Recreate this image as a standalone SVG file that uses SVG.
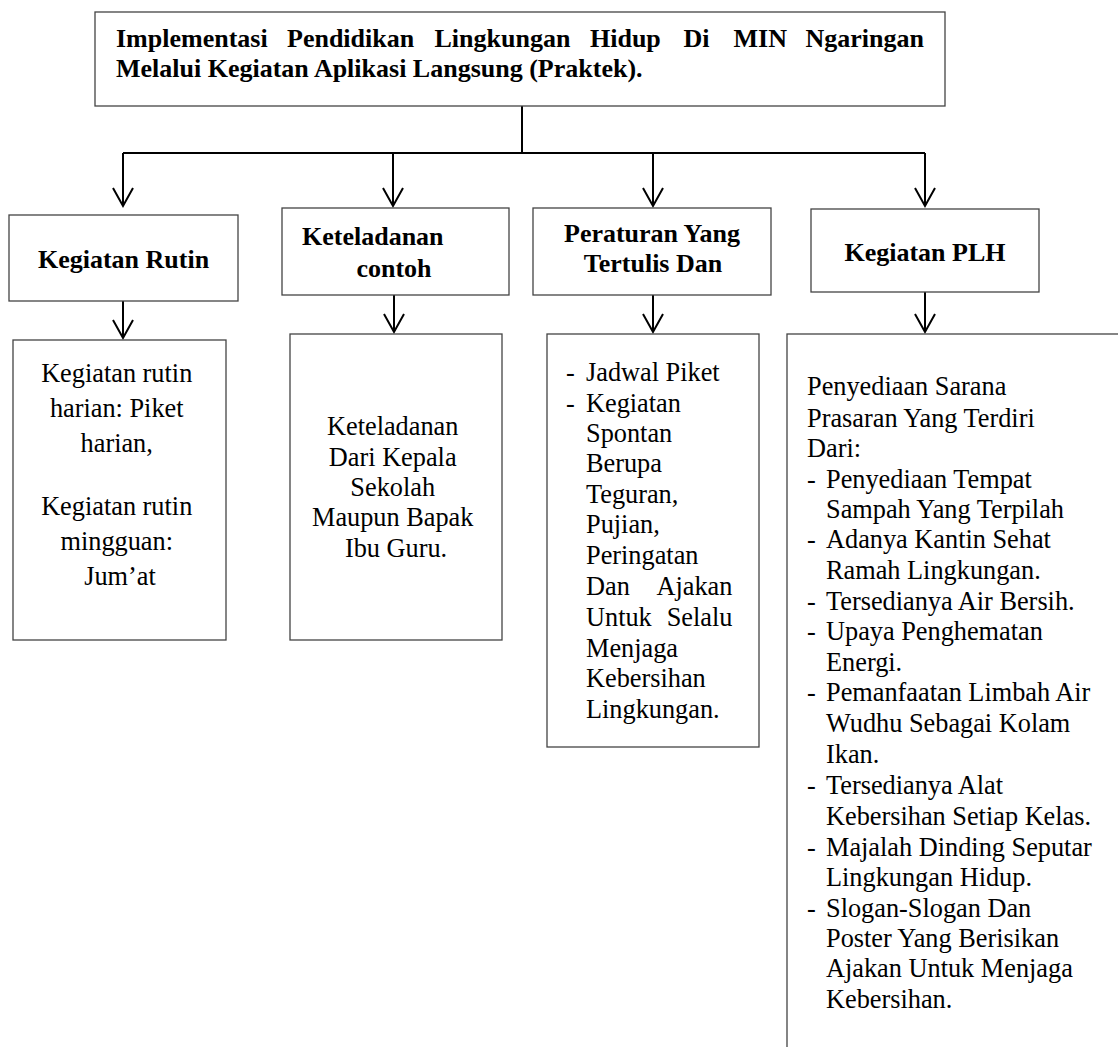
<svg xmlns="http://www.w3.org/2000/svg" width="1118" height="1047" viewBox="0 0 1118 1047">
<defs>
<style>
.box{fill:#fff;stroke:#444;stroke-width:1.3}
.conn{fill:none;stroke:#000;stroke-width:2}
.h{font-family:"Liberation Serif","Times New Roman",serif;font-weight:bold;font-size:26px;fill:#000}
.t{font-family:"Liberation Serif","Times New Roman",serif;font-size:26.3px;fill:#000}
.c{text-anchor:middle}
</style>
<marker id="arr" markerUnits="userSpaceOnUse" markerWidth="22" markerHeight="24" viewBox="-20 -12 22 24" refX="0" refY="0" orient="auto" overflow="visible">
<path d="M-18,-10 L0,0 L-18,10" fill="none" stroke="#000" stroke-width="2"/>
</marker>
</defs>
<rect width="1118" height="1047" fill="#fff"/>

<g id="connectors">
<path class="conn" d="M522,106 V153"/>
<path class="conn" d="M123,153 H925"/>
<path class="conn" d="M123,153 V206" marker-end="url(#arr)"/>
<path class="conn" d="M393,153 V206" marker-end="url(#arr)"/>
<path class="conn" d="M653,153 V206" marker-end="url(#arr)"/>
<path class="conn" d="M925,153 V206" marker-end="url(#arr)"/>
<path class="conn" d="M123,301 V338" marker-end="url(#arr)"/>
<path class="conn" d="M394,295 V332" marker-end="url(#arr)"/>
<path class="conn" d="M653,295 V332" marker-end="url(#arr)"/>
<path class="conn" d="M925,292 V332" marker-end="url(#arr)"/>
</g>

<g id="title">
<rect class="box" x="95" y="12" width="850" height="94"/>
<text class="h" y="46.5"><tspan x="116">Implementasi</tspan><tspan x="287">Pendidikan</tspan><tspan x="434.5">Lingkungan</tspan><tspan x="590">Hidup</tspan><tspan x="683.5">Di</tspan><tspan x="733.5">MIN</tspan><tspan x="924" text-anchor="end">Ngaringan</tspan></text>
<text class="h" x="116" y="77">Melalui Kegiatan Aplikasi Langsung (Praktek).</text>
</g>

<g id="rutin">
<rect class="box" x="9" y="215" width="229" height="86"/>
<text class="h c" x="123.5" y="267.5">Kegiatan Rutin</text>
</g>

<g id="keteladanan">
<rect class="box" x="282" y="208" width="227" height="87"/>
<text class="h" x="302" y="245">Keteladanan</text>
<text class="h c" x="394" y="277">contoh</text>
</g>

<g id="peraturan">
<rect class="box" x="533" y="208" width="238" height="87"/>
<text class="h c" x="652" y="241.5">Peraturan Yang</text>
<text class="h c" x="653" y="271.5">Tertulis Dan</text>
</g>

<g id="plh">
<rect class="box" x="811" y="209" width="228" height="83"/>
<text class="h c" x="925" y="260.5">Kegiatan PLH</text>
</g>

<g id="rutin-detail">
<rect class="box" x="13" y="340" width="213" height="300"/>
<text class="t c" x="120">
<tspan x="120" y="381.5">Kegiatan rutin</tspan>
<tspan x="120" y="417">harian: Piket</tspan>
<tspan x="120" y="451.5">harian,</tspan>
<tspan x="120" y="515">Kegiatan rutin</tspan>
<tspan x="120" y="550">mingguan:</tspan>
<tspan x="120" y="585">Jum’at</tspan>
</text>
</g>

<g id="keteladanan-detail">
<rect class="box" x="290" y="334" width="212" height="306"/>
<text class="t c" x="396">
<tspan x="396" y="435">Keteladanan</tspan>
<tspan x="396" y="465.5">Dari Kepala</tspan>
<tspan x="396" y="495.5">Sekolah</tspan>
<tspan x="396" y="525.5">Maupun Bapak</tspan>
<tspan x="396" y="557">Ibu Guru.</tspan>
</text>
</g>

<g id="peraturan-detail">
<rect class="box" x="547" y="334" width="212" height="413"/>
<text class="t">
<tspan x="566" y="381">-</tspan><tspan x="586" y="381">Jadwal Piket</tspan>
<tspan x="566" y="411.7">-</tspan><tspan x="586" y="411.7">Kegiatan</tspan>
<tspan x="586" y="441.7">Spontan</tspan>
<tspan x="586" y="472.3">Berupa</tspan>
<tspan x="586" y="503.3">Teguran,</tspan>
<tspan x="586" y="533.3">Pujian,</tspan>
<tspan x="586" y="564">Peringatan</tspan>
<tspan x="586" y="595">Dan</tspan><tspan x="739" y="595" text-anchor="end">Ajakan</tspan>
<tspan x="586" y="626">Untuk</tspan><tspan x="739" y="626" text-anchor="end">Selalu</tspan>
<tspan x="586" y="656.7">Menjaga</tspan>
<tspan x="586" y="686.7">Kebersihan</tspan>
<tspan x="586" y="718.3">Lingkungan.</tspan>
</text>
</g>

<g id="plh-detail">
<rect class="box" x="787" y="334" width="400" height="760"/>
<text class="t">
<tspan x="807" y="395">Penyediaan Sarana</tspan>
<tspan x="807" y="426.7">Prasaran Yang Terdiri</tspan>
<tspan x="807" y="457.3">Dari:</tspan>
<tspan x="807" y="487.7">-</tspan><tspan x="826" y="487.7">Penyediaan Tempat</tspan>
<tspan x="826" y="518.3">Sampah Yang Terpilah</tspan>
<tspan x="807" y="548.3">-</tspan><tspan x="826" y="548.3">Adanya Kantin Sehat</tspan>
<tspan x="826" y="579.3">Ramah Lingkungan.</tspan>
<tspan x="807" y="610">-</tspan><tspan x="826" y="610">Tersedianya Air Bersih.</tspan>
<tspan x="807" y="640">-</tspan><tspan x="826" y="640">Upaya Penghematan</tspan>
<tspan x="826" y="670.7">Energi.</tspan>
<tspan x="807" y="701">-</tspan><tspan x="826" y="701">Pemanfaatan Limbah Air</tspan>
<tspan x="826" y="731.7">Wudhu Sebagai Kolam</tspan>
<tspan x="826" y="763.3">Ikan.</tspan>
<tspan x="807" y="794">-</tspan><tspan x="826" y="794">Tersedianya Alat</tspan>
<tspan x="826" y="825">Kebersihan Setiap Kelas.</tspan>
<tspan x="807" y="855.7">-</tspan><tspan x="826" y="855.7">Majalah Dinding Seputar</tspan>
<tspan x="826" y="885.7">Lingkungan Hidup.</tspan>
<tspan x="807" y="916.7">-</tspan><tspan x="826" y="916.7">Slogan-Slogan Dan</tspan>
<tspan x="826" y="946.7">Poster Yang Berisikan</tspan>
<tspan x="826" y="977.3">Ajakan Untuk Menjaga</tspan>
<tspan x="826" y="1008.3">Kebersihan.</tspan>
</text>
</g>
</svg>
